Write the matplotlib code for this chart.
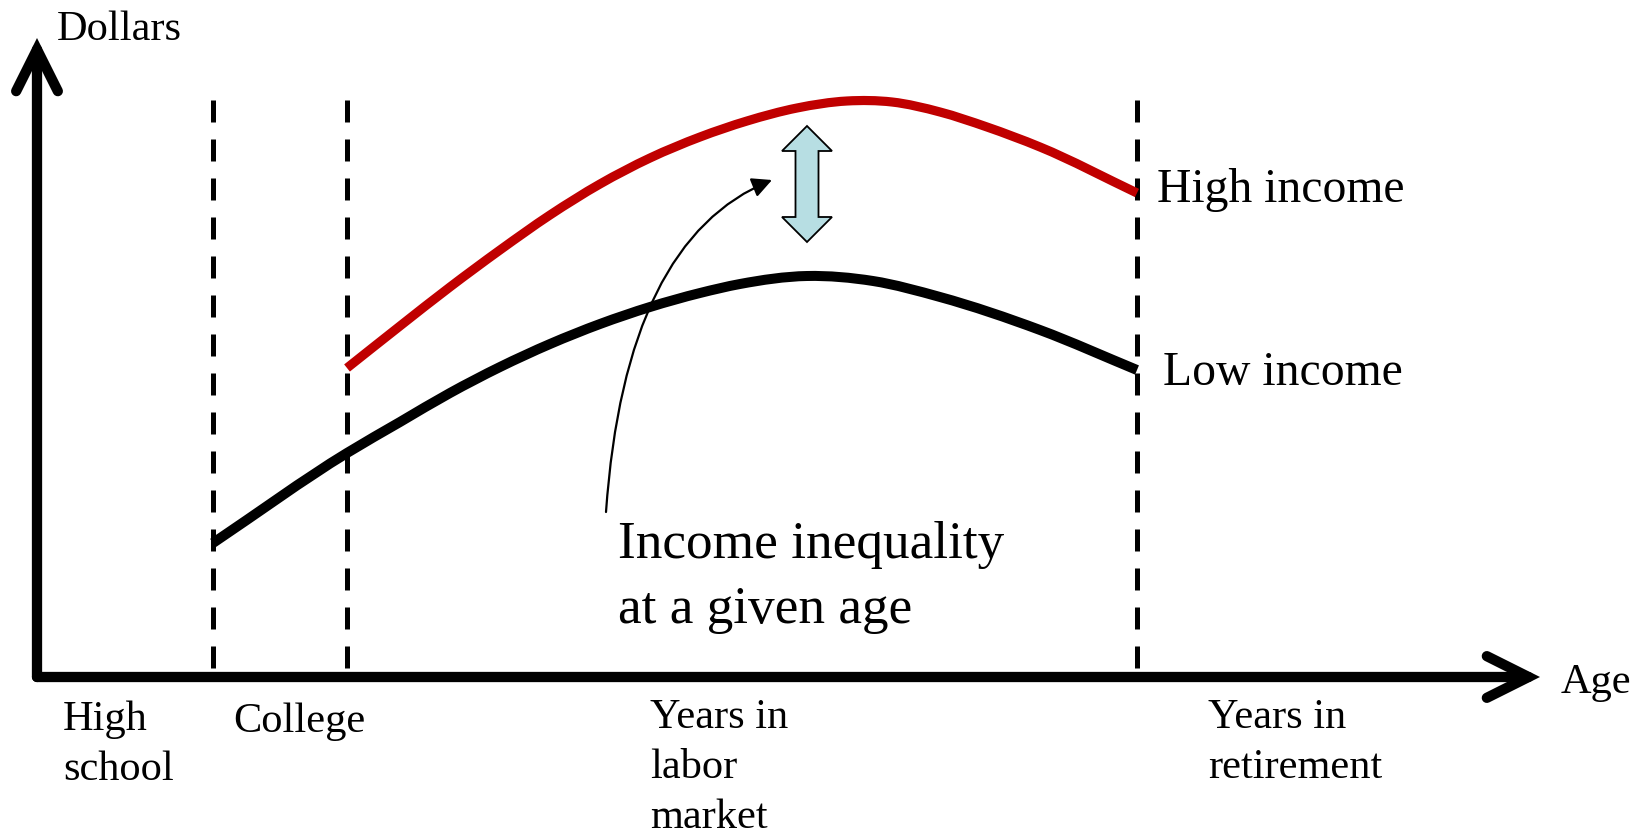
import matplotlib.pyplot as plt
from matplotlib.patches import Polygon, PathPatch
from matplotlib.path import Path

plt.rcParams['font.family'] = ['Liberation Serif', 'DejaVu Serif']

# lifetime earnings profiles (arbitrary units)
low_age = [1.76, 3.10, 3.63, 4.13, 4.63, 5.13, 5.63, 6.13, 6.63, 7.03,
           7.70, 8.36, 9.03, 10.03, 11.00]
low_income = [1.34, 2.24, 2.55, 2.84, 3.10, 3.33, 3.53, 3.70, 3.84, 3.93,
              4.01, 3.96, 3.80, 3.47, 3.07]
high_age = [3.10, 3.63, 4.13, 4.63, 5.13, 5.63, 6.13, 6.63, 7.10, 7.60,
            8.10, 8.55, 9.03, 9.50, 10.03, 11.00]
high_income = [3.09, 3.51, 3.90, 4.27, 4.62, 4.93, 5.19, 5.40, 5.56, 5.69,
               5.76, 5.75, 5.65, 5.50, 5.30, 4.84]

# stage boundaries and labels along the age axis
boundaries = [1.76, 3.10, 11.00]
stages = ['High\nschool', 'College', 'Years in\nlabor\nmarket', 'Years in\nretirement']
stage_x = [0.26, 1.96, 6.13, 11.71]
stage_y = [-0.53, -0.55, -0.51, -0.51]


def smooth_path(xs, ys):
    # cubic Hermite through the points, drawn as Bezier segments
    n = len(xs)
    h = [xs[i + 1] - xs[i] for i in range(n - 1)]
    d = [(ys[i + 1] - ys[i]) / h[i] for i in range(n - 1)]
    m = [d[0]] + [(d[i - 1] * h[i] + d[i] * h[i - 1]) / (h[i - 1] + h[i])
                  for i in range(1, n - 1)] + [d[-1]]
    verts, codes = [(xs[0], ys[0])], [Path.MOVETO]
    for i in range(n - 1):
        verts += [(xs[i] + h[i] / 3, ys[i] + m[i] * h[i] / 3),
                  (xs[i + 1] - h[i] / 3, ys[i + 1] - m[i + 1] * h[i] / 3),
                  (xs[i + 1], ys[i + 1])]
        codes += [Path.CURVE4] * 3
    return Path(verts, codes)


# initialize figure
fig = plt.figure(figsize=(16.48, 8.36), dpi=100)
ax = fig.add_axes([0, 0, 1, 1])
ax.set_xlim(-0.37, 16.11)
ax.set_ylim(-1.59, 6.77)
ax.axis('off')

# axes drawn as arrows
axis_style = dict(arrowstyle='->', mutation_scale=75, lw=7.4, color='k',
                  capstyle='round', joinstyle='miter', shrinkA=0, shrinkB=0)
ax.annotate('', xy=(15.03, 0), xytext=(0, 0), arrowprops=axis_style)
ax.annotate('', xy=(0, 6.39), xytext=(0, 0), arrowprops=axis_style)
ax.text(0.20, 6.37, 'Dollars', fontsize=30.5, va='baseline')
ax.text(15.24, -0.16, 'Age', fontsize=30.5, va='baseline')

# stage boundaries
for x in boundaries:
    ax.plot([x, x], [5.77, 0.03], color='k', lw=3.6,
            linestyle=(0, (4.4, 3.4)), zorder=1)

# earnings profiles
ax.add_patch(PathPatch(smooth_path(low_age, low_income), fill=False,
                       edgecolor='k', lw=7.2, capstyle='butt', zorder=3))
ax.add_patch(PathPatch(smooth_path(high_age, high_income), fill=False,
                       edgecolor='#C00000', lw=6.6, capstyle='butt', zorder=3))
ax.text(11.20, 4.75, 'High income', fontsize=34.3, va='baseline')
ax.text(11.26, 2.92, 'Low income', fontsize=34.3, va='baseline')

# stage labels
for label, x, y in zip(stages, stage_x, stage_y):
    for i, line in enumerate(label.split('\n')):
        ax.text(x, y - 0.50 * i, line, fontsize=30.5, va='baseline')

# double arrow showing the gap between profiles
cx, top, bottom = 7.70, 5.51, 4.35
hw, sw, hl = 0.25, 0.115, 0.25
verts = [(cx, top), (cx + hw, top - hl), (cx + sw, top - hl),
         (cx + sw, bottom + hl), (cx + hw, bottom + hl), (cx, bottom),
         (cx - hw, bottom + hl), (cx - sw, bottom + hl), (cx - sw, top - hl),
         (cx - hw, top - hl)]
ax.add_patch(Polygon(verts, closed=True, facecolor='#B7DEE3',
                     edgecolor='k', lw=1.3, zorder=4))

# annotation
ax.annotate('', xy=(7.35, 4.97), xytext=(5.69, 1.65),
            arrowprops=dict(arrowstyle='-|>', mutation_scale=30, lw=1.6,
                            color='k', shrinkA=0, shrinkB=0,
                            connectionstyle='angle3,angleA=86,angleB=22'))
ax.text(5.81, 1.19, 'Income inequality', fontsize=38.3, va='baseline')
ax.text(5.81, 0.54, 'at a given age', fontsize=38.3, va='baseline')

fig.savefig('out.png', dpi=100, facecolor='white')
